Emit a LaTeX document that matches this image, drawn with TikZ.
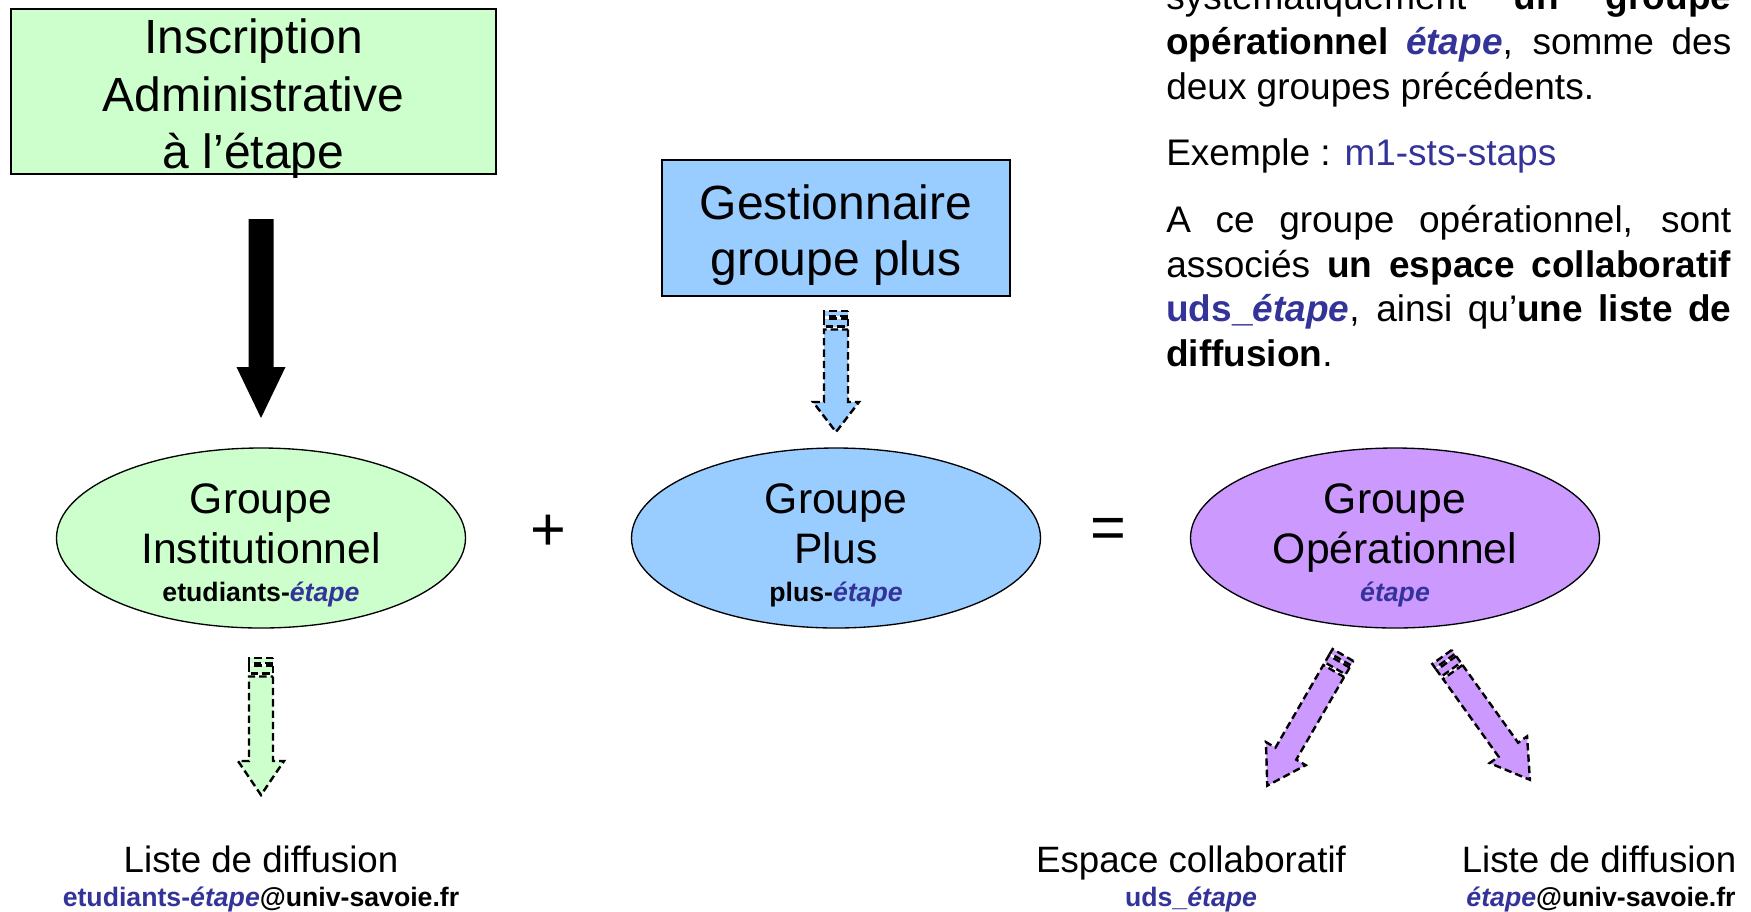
\documentclass[tikz,border=0pt]{standalone}
\usepackage{fontspec}
\setmainfont{Liberation Sans}
\usetikzlibrary{shapes.geometric}
\definecolor{gfill}{HTML}{CCFFCC}
\definecolor{bfill}{HTML}{99CCFF}
\definecolor{pfill}{HTML}{CC99FF}
\definecolor{dblue}{HTML}{333399}
\newcommand\etp{\textcolor{dblue}{\textit{étape}}}
% #1 colour, #2 tail coordinate, #3 angle, #4 length, #5 head length
\newcommand\stripedarrow[5]{%
  \begin{scope}[shift={#2}, rotate=#3]
    \draw[sarrow, fill=#1] (0,-12) rectangle (5,12);
    \draw[sarrow, fill=#1] (7.5,-12) rectangle (15.5,12);
    \draw[sarrow, fill=#1] (18.5,-12) -- ({#4-#5},-12) -- ({#4-#5},-23) -- (#4,0)
      -- ({#4-#5},23) -- ({#4-#5},12) -- (18.5,12) -- cycle;
  \end{scope}}
\begin{document}
\begin{tikzpicture}[x=0.75pt,y=-0.75pt,
  box/.style={draw=black, line width=1.2pt, inner sep=0pt},
  ell/.style={ellipse, draw=black, line width=1pt, minimum width=306.75pt, minimum height=135pt, inner sep=0pt},
  big/.style={font=\fontsize{36}{43}\selectfont, inner sep=0pt, anchor=base},
  mid/.style={font=\fontsize{32}{38}\selectfont, inner sep=0pt, anchor=base},
  lbl/.style={font=\fontsize{27.5}{33}\selectfont, inner sep=0pt, anchor=base},
  sm/.style={font=\bfseries\fontsize{20}{24}\selectfont, inner sep=0pt, anchor=base},
  op/.style={font=\fontsize{46}{50}\selectfont, inner sep=0pt},
  sarrow/.style={draw=black, line width=1.8pt, dash pattern=on 5.5pt off 3pt, line join=miter},
  para/.style={text width=423.75pt, align=justify, inner sep=0pt, anchor=base west,
    font=\fontsize{27.75}{33.5}\selectfont}]
\useasboundingbox (0,0) rectangle (1751,911);
\clip (0,0) rectangle (1751,911);

% top boxes
\node[box, fill=gfill, minimum width=363.75pt, minimum height=123.75pt] (insc) at (253.5,91.5) {};
\node[big] (inscA) at (253.5,53) {Inscription};
\node[big] (inscB) at (253.5,111) {Administrative};
\node[big] (inscC) at (253.5,168) {à l’étape};

\node[box, fill=bfill, minimum width=261pt, minimum height=102pt] (gest) at (836,228) {};
\node[big] (gestA) at (836,219) {Gestionnaire};
\node[big] (gestB) at (836,275) {groupe plus};

% black arrow
\coordinate (btail) at (261,219);
\begin{scope}[shift={(btail)}, rotate=-90]
  \fill[black] (0,-12.5) -- (148,-12.5) -- (148,-24.5) -- (199,0) -- (148,24.5) -- (148,12.5) -- (0,12.5) -- cycle;
\end{scope}

% striped arrows
\coordinate (btl) at (836,311);
\coordinate (gtl) at (261,658);
\coordinate (pl) at (1343,655);
\coordinate (pr) at (1442,657);
\stripedarrow{bfill}{(btl)}{-90}{121}{30}
\stripedarrow{gfill}{(gtl)}{-90}{137}{34}
\stripedarrow{pfill}{(pl)}{-120.1}{151}{37}
\stripedarrow{pfill}{(pr)}{-54.4}{151}{37}

% ellipses
\node[ell, fill=gfill] (gi) at (261,538) {};
\node[mid] (giA) at (261,513) {Groupe};
\node[mid] (giB) at (261,563) {Institutionnel};
\node[sm] (giC) at (261,601) {etudiants-\etp};

\node[ell, fill=bfill] (gp) at (836,538) {};
\node[mid] (gpA) at (836,513) {Groupe};
\node[mid] (gpB) at (836,563) {Plus};
\node[sm] (gpC) at (836,601) {plus-\etp};

\node[ell, fill=pfill] (go) at (1395,538) {};
\node[mid] (goA) at (1395,513) {Groupe};
\node[mid] (goB) at (1395,563) {Opérationnel};
\node[sm] (goC) at (1395,601) {\etp};

\node[op] (plus) at (548,533) {+};
\node[op] (eq) at (1108,533) {=};

% bottom labels
\node[lbl] (l1) at (261,872) {Liste de diffusion};
\node[sm] (l1m) at (261,906) {\textcolor{dblue}{etudiants-\textit{étape}}@univ-savoie.fr};
\node[lbl] (l2) at (1191,872) {Espace collaboratif};
\node[sm] (l2m) at (1191,906) {\textcolor{dblue}{uds\_\textit{étape}}};
\node[lbl] (l3) at (1599,872) {Liste de diffusion};
\node[sm] (l3m) at (1601,906) {\etp@univ-savoie.fr};

% paragraph
\node[para] (txt) at (1166,9.8) {\setlength{\parskip}{16.5pt}\setlength{\parindent}{0pt}%
systématiquement \textbf{un groupe}\linebreak
\textbf{opérationnel} \textbf{\etp}, somme des\linebreak
deux groupes précédents.\par
Exemple : \textcolor{dblue}{m1-sts-staps}\par
A ce groupe opérationnel, sont\linebreak
associés \textbf{un espace collaboratif}\linebreak
\textcolor{dblue}{\textbf{uds\_\textit{étape}}}, ainsi qu’\textbf{une liste de}\linebreak
\textbf{diffusion}.};
\end{tikzpicture}
\end{document}
